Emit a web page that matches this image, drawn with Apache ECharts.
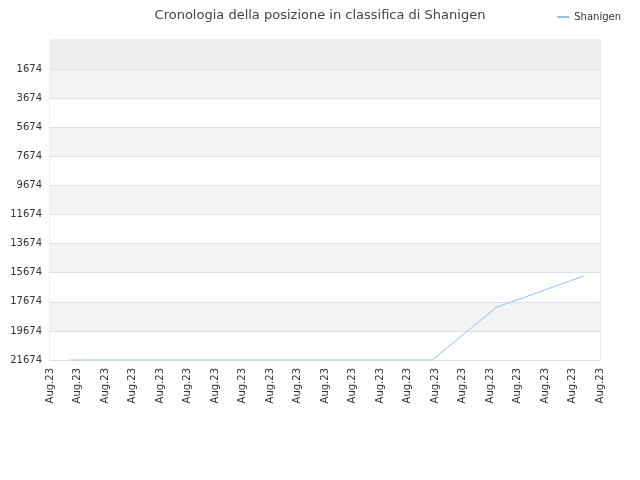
<!DOCTYPE html>
<html><head><meta charset="utf-8">
<script src="https://cdn.jsdelivr.net/npm/echarts@6/dist/echarts.min.js"></script>
<style>html,body{margin:0;padding:0}#c{width:640px;height:480px}</style>
</head><body><div id="c"></div>
<script>
const xLabels = Array(21).fill('Aug.23');
const xPos = [0.69, 13.9, 16.25, 17.2, 18.3, 19.4];
const ranks = [21674, 21674, 18030, 17400, 16650, 15900];
const seriesName = 'Shanigen';
const chart = echarts.init(document.getElementById('c'));
chart.setOption({
  animation:false,
  title:{text:'Cronologia della posizione in classifica di Shanigen',left:'center',top:4,
    textStyle:{fontSize:13,fontWeight:'normal',color:'#444',fontFamily:'DejaVu Sans'}},
  legend:{right:14,top:7,itemWidth:12,itemHeight:2,icon:'rect',
    textStyle:{fontSize:10,color:'#333',fontFamily:'DejaVu Sans'},data:[seriesName]},
  grid:{left:50,right:40,top:40,bottom:120,show:true,borderColor:'#ddd',borderWidth:1},
  xAxis:{type:'value',min:0,max:20,interval:1,
    axisLabel:{rotate:90,fontSize:10,color:'#333',fontFamily:'DejaVu Sans',
      formatter:(v)=>xLabels[Math.round(v)]||'',align:'right',verticalAlign:'middle',margin:8},
    axisLine:{show:false},axisTick:{show:false},splitLine:{show:false}},
  yAxis:{type:'value',inverse:true,min:-326,max:21674,interval:2000,
    axisLabel:{fontSize:10,color:'#333',fontFamily:'DejaVu Sans',formatter:(v)=>v<0?'':String(v)},
    axisLine:{show:false},axisTick:{show:false},
    splitLine:{lineStyle:{color:'#e0e0e0'}},
    splitArea:{show:true,areaStyle:{color:['#ffffff','#f3f3f3']}}},
  series:[{name:seriesName,type:'line',data:xPos.map((x,i)=>[x,ranks[i]]),
    showSymbol:false,lineStyle:{color:'#90c0f0',width:1},itemStyle:{color:'#90c0f0'},
    markArea:{silent:true,itemStyle:{color:'#eeeeee'},data:[[{yAxis:-326},{yAxis:1674}]]}}]
});
</script></body></html>
